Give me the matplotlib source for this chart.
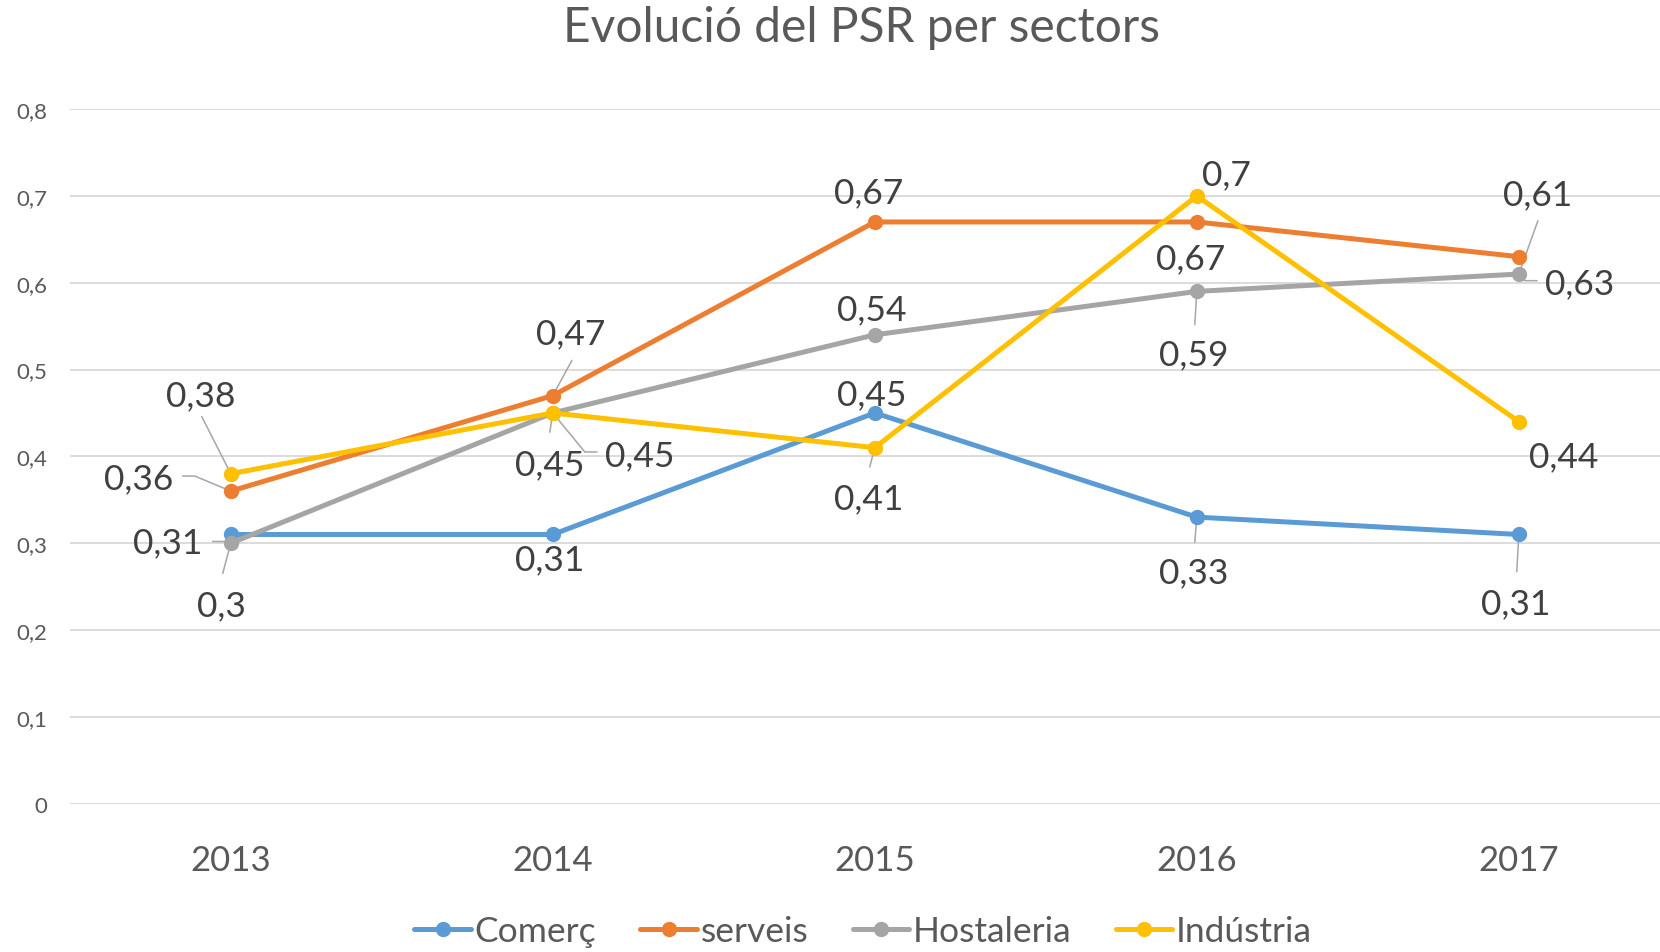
import matplotlib
matplotlib.use("Agg")
import matplotlib.pyplot as plt
import numpy as np

years = ["2013", "2014", "2015", "2016", "2017"]
series_names = ["Comerç", "serveis", "Hostaleria", "Indústria"]
comerc = [0.31, 0.31, 0.45, 0.33, 0.31]
serveis = [0.36, 0.47, 0.67, 0.67, 0.63]
hostaleria = [0.30, 0.45, 0.54, 0.59, 0.61]
industria = [0.38, 0.45, 0.41, 0.70, 0.44]
yticks = [0, 0.1, 0.2, 0.3, 0.4, 0.5, 0.6, 0.7, 0.8]
title = "Evolució del PSR per sectors"

colors = ["#5B9BD5", "#ED7D31", "#A5A5A5", "#FFC000"]
values = [comerc, serveis, hostaleria, industria]

# label layout: (series index, year index, text offset px (dx, dy up), leader path offsets or None)
label_layout = [
    (3, 0, (-30, 78), [(-29, 57)]),
    (1, 0, (-92, 13), [(-48, 15), (-36, 15)]),
    (0, 0, (-63, -8), [(-18, -7), (-2, -7)]),
    (2, 0, (-9, -62), [(-8, -30)]),
    (1, 1, (18, 62), [(19, 35)]),
    (2, 1, (-3, -51), [(-3, -19)]),
    (3, 1, (87, -42), [(44, -39), (32, -39)]),
    (0, 1, (-3, -25), None),
    (1, 2, (-6, 30), None),
    (2, 2, (-3, 26), None),
    (0, 2, (-3, 19), None),
    (3, 2, (-6, -51), [(-5, -19)]),
    (3, 3, (30, 22), None),
    (1, 3, (-6, -36), None),
    (2, 3, (-3, -63), [(-2, -33)]),
    (0, 3, (-3, -55), [(-2, -25)]),
    (2, 4, (19, 80), [(19, 53)]),
    (1, 4, (61, -27), [(18, -24), (6, -24), (1, -17)]),
    (3, 4, (45, -35), None),
    (0, 4, (-3, -69), [(-2, -37)]),
]

plt.rcParams['font.family'] = ['Lato', 'DejaVu Sans']

W, H = 1660, 953
fig = plt.figure(figsize=(W / 100, H / 100), dpi=100)
ax_left, ax_right = 69.8, 1660
y0_px, ytop_px = 804.6, 110.1
ax = fig.add_axes([ax_left / W, (H - y0_px) / H, (ax_right - ax_left) / W, (y0_px - ytop_px) / H])

x = np.arange(len(years))
for name, vals, c in zip(series_names, values, colors):
    ax.plot(x, vals, color=c, lw=3.6, marker='o', markersize=10, label=name,
            solid_capstyle='round', zorder=3)

band = (1518.8 - 230.8) / 4
ax.set_xlim(-0.5, -0.5 + (ax_right - ax_left) / band)
ax.set_ylim(0, 0.8)
ax.set_yticks(yticks)
ax.set_yticklabels([f"{v:g}".replace('.', ',') for v in yticks], fontsize=16, color="#595959")
ax.set_xticks(x)
ax.set_xticklabels(years, fontsize=25, color="#595959")
ax.tick_params(axis='both', length=0)
ax.tick_params(axis='y', pad=16)
ax.tick_params(axis='x', pad=29)
ax.grid(axis='y', color='#D9D9D9', lw=1.3, zorder=0)
ax.set_axisbelow(True)
for s in ax.spines.values():
    s.set_visible(False)

fig.text(861 / W, 1 - 28 / H, title, ha='center', va='center', fontsize=34.5, color="#595959")

fig.canvas.draw()
to_disp = ax.transData
inv = ax.transData.inverted()

for si, yi, (dx, dy), leader in label_layout:
    v = values[si][yi]
    px, py = to_disp.transform((yi, v))
    tx, ty = inv.transform((px + dx, py + dy))
    ax.text(tx, ty, f"{v:g}".replace('.', ','), ha='center', va='center',
            fontsize=25.5, color="#404040", zorder=5)
    if leader:
        pts = [(px + a, py + b) for a, b in leader]
        if len(leader) < 3:
            pts.append((px, py))
        dpts = inv.transform(pts)
        ax.plot(dpts[:, 0], dpts[:, 1], color="#A6A6A6", lw=1.1, zorder=2.5)

fig.legend(loc='center', bbox_to_anchor=(863 / W, 1 - 932 / H), ncol=4, frameon=False,
           fontsize=25.5, handlelength=1.6, handletextpad=0.1, columnspacing=1.25,
           labelcolor="#595959")

fig.savefig("out.png", dpi=100)
